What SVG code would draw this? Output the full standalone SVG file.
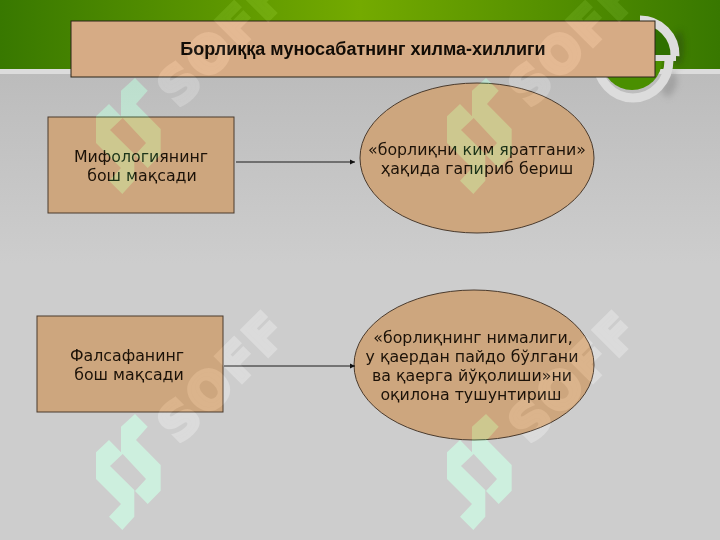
<svg xmlns="http://www.w3.org/2000/svg" width="720" height="540" viewBox="0 0 720 540">
<style>
.b{fill:#cda67e;stroke:#4a3a2c;stroke-width:1}
.tb{fill:#d6ab85;stroke:#2a2418;stroke-width:1}
.t{font-family:"DejaVu Sans",sans-serif;font-size:15.8px;fill:#1c1208;text-anchor:middle}
.h{font-family:"Liberation Sans",Arial,sans-serif;font-size:18px;font-weight:700;fill:#120c06;text-anchor:middle}
.c{stroke:#1a1a1a;stroke-width:1;fill:none;marker-end:url(#a)}
.wl{fill:#002211;mix-blend-mode:plus-lighter}
.ws{font-family:"DejaVu Sans",sans-serif;font-weight:700;font-size:50px;letter-spacing:3px;fill:#0e0e0e;stroke:#0e0e0e;stroke-width:4;mix-blend-mode:plus-lighter}
</style>
<defs>
<linearGradient id="g" x1="0" x2="1" y1="0" y2="0"><stop offset="0" stop-color="#387800"/><stop offset=".5" stop-color="#74aa00"/><stop offset="1" stop-color="#387800"/></linearGradient>
<linearGradient id="gr" x1="0" x2="0" y1="0" y2="1"><stop offset="0" stop-color="#bcbcbc"/><stop offset="1" stop-color="#cdcdcd"/></linearGradient>
<filter id="bl" x="-50%" y="-50%" width="200%" height="200%"><feGaussianBlur stdDeviation="3"/></filter>
<marker id="a" markerWidth="6" markerHeight="6" refX="5" refY="3" orient="auto" markerUnits="userSpaceOnUse"><path d="M0 0.5L5 3L0 5.500Z" fill="#111"/></marker>
<g id="wm"><path d="M135 78L147.700 90.700L136 104L160.700 129V154.700L147.700 168L135 155L146 143L122.700 118L110 130L134.300 154V180.700L122.300 194L109 180.700L121 168L96 143V116.300L109 104L121 116.300V90.700Z"/></g>
</defs>
<rect width="720" height="69" fill="url(#g)"/>
<rect y="69" width="720" height="5" fill="#dcdcdc"/>
<rect y="74" width="720" height="190" fill="url(#gr)"/>
<rect y="264" width="720" height="276" fill="#cdcdcd"/>
<g id="ring">
<path d="M681 30Q688 50 680 66L672 62L674 35Z" fill="#2a4a10" opacity=".5" filter="url(#bl)"/>
<path d="M672 70Q684 82 668 98L660 90Z" fill="#909090" opacity=".6" filter="url(#bl)"/>
<path d="M602 60A30 30 0 0 0 662 60Z" fill="#4a8f00"/>
<path d="M640 25A31 31 0 0 1 671 56H640Z" fill="#2f7000"/>
<path d="M597 60A36 38 0 0 0 669 60" fill="none" stroke="#dcdcdc" stroke-width="9"/>
<path d="M640 20A35 35 0 0 1 675 56" fill="none" stroke="#dcdcdc" stroke-width="9"/>
<rect x="655" y="55" width="21" height="6" fill="#dcdcdc"/>
</g>
<g id="title"><rect class="tb" x="71" y="21" width="584" height="56"/><text class="h" x="363" y="55">Борлиққа муносабатнинг хилма-хиллиги</text></g>
<g id="n1"><rect class="b" x="48" y="117" width="186" height="96"/><text class="t" x="141" y="162">Мифологиянинг</text><text class="t" x="142" y="181">бош мақсади</text></g>
<g id="n2"><ellipse class="b" cx="477" cy="158" rx="117" ry="75"/><text class="t" x="477" y="155">«борлиқни ким яратгани»</text><text class="t" x="477" y="174">ҳақида гапириб бериш</text></g>
<g id="n3"><rect class="b" x="37" y="316" width="186" height="96"/><text class="t" x="127" y="361">Фалсафанинг</text><text class="t" x="129" y="380">бош мақсади</text></g>
<g id="n4"><ellipse class="b" cx="474" cy="365" rx="120" ry="75"/><text class="t" x="473" y="343">«борлиқнинг нималиги,</text><text class="t" x="472" y="362">у қаердан пайдо бўлгани</text><text class="t" x="472" y="381">ва қаерга йўқолиши»ни</text><text class="t" x="471" y="400">оқилона тушунтириш</text></g>
<g id="connectors"><path class="c" d="M236 162H355"/><path class="c" d="M224 366H355"/></g>
<g id="watermark">
<use class="wl" href="#wm"/><use class="wl" href="#wm" x="351"/><use class="wl" href="#wm" y="336"/><use class="wl" href="#wm" x="351" y="336"/>
<text class="ws" transform="translate(179 109) rotate(-45)">SOFF</text>
<text class="ws" transform="translate(530 109) rotate(-45)">SOFF</text>
<text class="ws" transform="translate(179 445) rotate(-45)">SOFF</text>
<text class="ws" transform="translate(530 445) rotate(-45)">SOFF</text>
</g>
</svg>
